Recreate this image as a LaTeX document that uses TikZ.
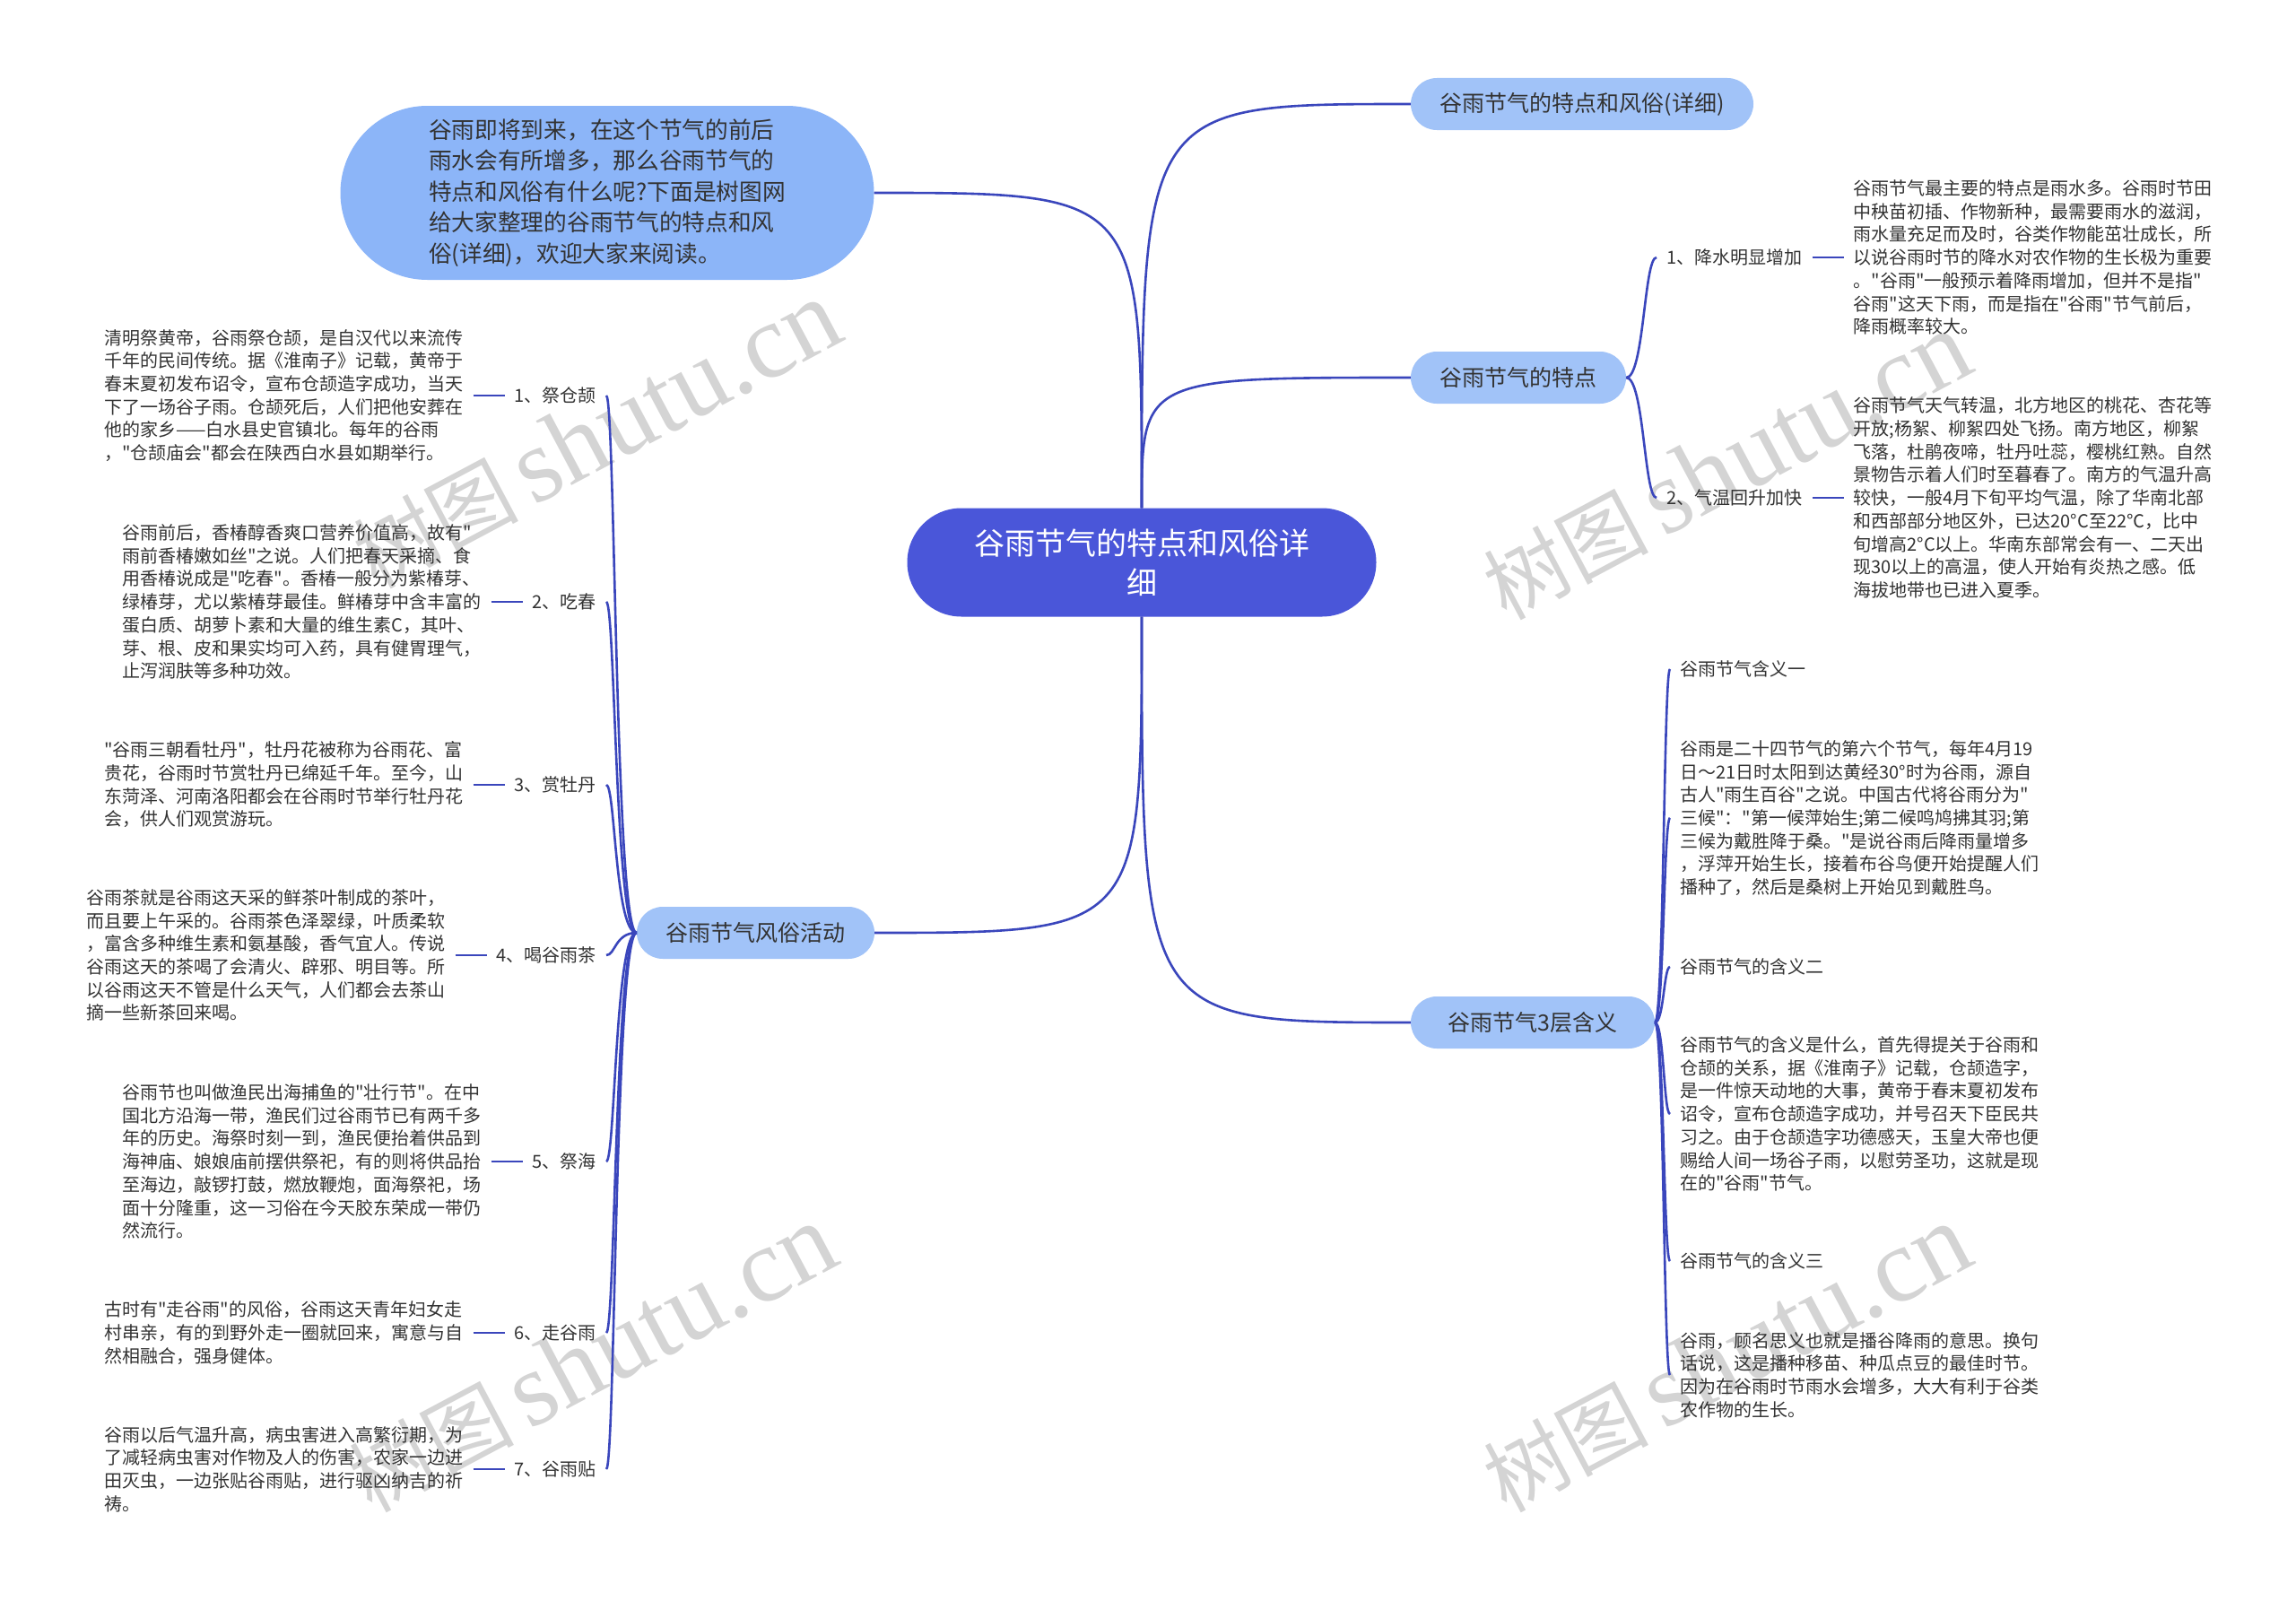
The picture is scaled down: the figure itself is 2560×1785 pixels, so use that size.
\documentclass[tikz,border=0pt]{standalone}
\usepackage{fontspec}
\setmainfont{Noto Sans CJK SC}
\newfontfamily\cjk{Noto Sans CJK SC}
\newfontfamily\wmlatin{Liberation Serif}
\usetikzlibrary{shapes.misc}
\definecolor{mainblue}{RGB}{74,86,217}
\definecolor{pillblue}{RGB}{161,195,248}
\definecolor{introblue}{RGB}{140,181,248}
\definecolor{linkblue}{RGB}{58,70,188}
\definecolor{txt}{RGB}{51,51,51}
\definecolor{wmgray}{RGB}{212,212,212}
\begin{document}
\begin{tikzpicture}[x=1pt,y=-1pt,
  link/.style={draw=linkblue, line width=2.6pt},
  central/.style={rounded rectangle, fill=mainblue, text=white, minimum width=523pt, minimum height=121pt, inner sep=0pt, align=center, font=\cjk\fontsize{34}{44}\selectfont},
  pill/.style={rounded rectangle, fill=pillblue, text=txt, minimum height=58pt, inner sep=0pt, font=\cjk\fontsize{25}{30}\selectfont},
  intro/.style={rounded rectangle, fill=introblue, text=txt, minimum width=595pt, minimum height=194pt, inner sep=0pt, align=left, font=\cjk\fontsize{25.7}{34.5}\selectfont},
  sidelabel/.style={inner xsep=11pt, inner ysep=2pt, text=txt, font=\cjk\fontsize{20}{25.7}\selectfont},
  desc/.style={inner xsep=11pt, inner ysep=2pt, text=txt, align=left, font=\cjk\fontsize{20}{25.7}\selectfont},
  watermark/.style={text=wmgray, rotate=28, font=\cjk\fontsize{92}{96}\selectfont}
]
\fill[white] (0,0) rectangle (2560,1785);
\useasboundingbox (0,0) rectangle (2560,1785);

% watermarks
\node[watermark] (wm1) at (665,485) {树图\,{\wmlatin\fontsize{118}{120}\selectfont shutu.cn}};
\node[watermark] (wm2) at (1925,520) {树图\,{\wmlatin\fontsize{118}{120}\selectfont shutu.cn}};
\node[watermark] (wm3) at (660,1515) {树图\,{\wmlatin\fontsize{118}{120}\selectfont shutu.cn}};
\node[watermark] (wm4) at (1925,1515) {树图\,{\wmlatin\fontsize{118}{120}\selectfont shutu.cn}};

% main nodes
\node[central] (c) at (1273,627) {谷雨节气的特点和风俗详\\细};
\node[intro] (intro) at (677,215) {谷雨即将到来，在这个节气的前后\\雨水会有所增多，那么谷雨节气的\\特点和风俗有什么呢?下面是树图网\\给大家整理的谷雨节气的特点和风\\俗(详细)，欢迎大家来阅读。};
\node[pill, minimum width=382pt] (A) at (1764,116) {谷雨节气的特点和风俗(详细)};
\node[pill, minimum width=240pt] (B) at (1693,421) {谷雨节气的特点};
\node[pill, minimum width=272pt] (C) at (1709,1140) {谷雨节气3层含义};
\node[pill, minimum width=265pt] (D) at (842.5,1040) {谷雨节气风俗活动};

\draw[link] (intro.east) .. controls (c.north |- intro.east) .. (c.north);
\draw[link] (c.north) .. controls (c.north |- A.west) .. (A.west);
\draw[link] (c.north) .. controls (c.north |- B.west) .. (B.west);
\draw[link] (c.south) .. controls (c.south |- C.west) .. (C.west);
\draw[link] (c.south) .. controls (c.south |- D.east) .. (D.east);

% ---- left branch: customs
\node[sidelabel, anchor=east] (dl1) at (676,441) {1、祭仓颉};
\node[desc, anchor=east] (dt1) at ([xshift=-35pt]dl1.west) {清明祭黄帝，谷雨祭仓颉，是自汉代以来流传\\千年的民间传统。据《淮南子》记载，黄帝于\\春末夏初发布诏令，宣布仓颉造字成功，当天\\下了一场谷子雨。仓颉死后，人们把他安葬在\\他的家乡——白水县史官镇北。每年的谷雨\\，"仓颉庙会"都会在陕西白水县如期举行。};
\node[sidelabel, anchor=east] (dl2) at (676,671) {2、吃春};
\node[desc, anchor=east] (dt2) at ([xshift=-35pt]dl2.west) {谷雨前后，香椿醇香爽口营养价值高，故有"\\雨前香椿嫩如丝"之说。人们把春天采摘、食\\用香椿说成是"吃春"。香椿一般分为紫椿芽、\\绿椿芽，尤以紫椿芽最佳。鲜椿芽中含丰富的\\蛋白质、胡萝卜素和大量的维生素C，其叶、\\芽、根、皮和果实均可入药，具有健胃理气，\\止泻润肤等多种功效。};
\node[sidelabel, anchor=east] (dl3) at (676,875) {3、赏牡丹};
\node[desc, anchor=east] (dt3) at ([xshift=-35pt]dl3.west) {"谷雨三朝看牡丹"，牡丹花被称为谷雨花、富\\贵花，谷雨时节赏牡丹已绵延千年。至今，山\\东菏泽、河南洛阳都会在谷雨时节举行牡丹花\\会，供人们观赏游玩。};
\node[sidelabel, anchor=east] (dl4) at (676,1065) {4、喝谷雨茶};
\node[desc, anchor=east] (dt4) at ([xshift=-35pt]dl4.west) {谷雨茶就是谷雨这天采的鲜茶叶制成的茶叶，\\而且要上午采的。谷雨茶色泽翠绿，叶质柔软\\，富含多种维生素和氨基酸，香气宜人。传说\\谷雨这天的茶喝了会清火、辟邪、明目等。所\\以谷雨这天不管是什么天气，人们都会去茶山\\摘一些新茶回来喝。};
\node[sidelabel, anchor=east] (dl5) at (676,1295) {5、祭海};
\node[desc, anchor=east] (dt5) at ([xshift=-35pt]dl5.west) {谷雨节也叫做渔民出海捕鱼的"壮行节"。在中\\国北方沿海一带，渔民们过谷雨节已有两千多\\年的历史。海祭时刻一到，渔民便抬着供品到\\海神庙、娘娘庙前摆供祭祀，有的则将供品抬\\至海边，敲锣打鼓，燃放鞭炮，面海祭祀，场\\面十分隆重，这一习俗在今天胶东荣成一带仍\\然流行。};
\node[sidelabel, anchor=east] (dl6) at (676,1486) {6、走谷雨};
\node[desc, anchor=east] (dt6) at ([xshift=-35pt]dl6.west) {古时有"走谷雨"的风俗，谷雨这天青年妇女走\\村串亲，有的到野外走一圈就回来，寓意与自\\然相融合，强身健体。};
\node[sidelabel, anchor=east] (dl7) at (676,1638) {7、谷雨贴};
\node[desc, anchor=east] (dt7) at ([xshift=-35pt]dl7.west) {谷雨以后气温升高，病虫害进入高繁衍期，为\\了减轻病虫害对作物及人的伤害，农家一边进\\田灭虫，一边张贴谷雨贴，进行驱凶纳吉的祈\\祷。};

\foreach \i in {1,...,7} {
  \draw[link] (D.west) .. controls +(-24,0) and +(10,0) .. (dl\i.east);
  \draw[link] (dt\i.east) -- (dl\i.west);
}

% ---- right branch: features
\node[sidelabel, anchor=west] (bl1) at (1847,287) {1、降水明显增加};
\node[desc, anchor=west] (bt1) at ([xshift=35pt]bl1.east) {谷雨节气最主要的特点是雨水多。谷雨时节田\\中秧苗初插、作物新种，最需要雨水的滋润，\\雨水量充足而及时，谷类作物能茁壮成长，所\\以说谷雨时节的降水对农作物的生长极为重要\\。"谷雨"一般预示着降雨增加，但并不是指"\\谷雨"这天下雨，而是指在"谷雨"节气前后，\\降雨概率较大。};
\node[sidelabel, anchor=west] (bl2) at (1847,555) {2、气温回升加快};
\node[desc, anchor=west] (bt2) at ([xshift=35pt]bl2.east) {谷雨节气天气转温，北方地区的桃花、杏花等\\开放;杨絮、柳絮四处飞扬。南方地区，柳絮\\飞落，杜鹃夜啼，牡丹吐蕊，樱桃红熟。自然\\景物告示着人们时至暮春了。南方的气温升高\\较快，一般4月下旬平均气温，除了华南北部\\和西部部分地区外，已达20°C至22℃，比中\\旬增高2°C以上。华南东部常会有一、二天出\\现30以上的高温，使人开始有炎热之感。低\\海拔地带也已进入夏季。};
\foreach \i in {1,2} {
  \draw[link] (B.east) .. controls +(20,0) and +(-14,0) .. (bl\i.west);
  \draw[link] (bl\i.east) -- (bt\i.west);
}

% ---- right branch: meanings
\node[sidelabel, anchor=west] (cn1) at (1862,746) {谷雨节气含义一};
\node[desc, anchor=west] (cn2) at (1862,912) {谷雨是二十四节气的第六个节气，每年4月19\\日～21日时太阳到达黄经30°时为谷雨，源自\\古人"雨生百谷"之说。中国古代将谷雨分为"\\三候"："第一候萍始生;第二候鸣鸠拂其羽;第\\三候为戴胜降于桑。"是说谷雨后降雨量增多\\，浮萍开始生长，接着布谷鸟便开始提醒人们\\播种了，然后是桑树上开始见到戴胜鸟。};
\node[sidelabel, anchor=west] (cn3) at (1862,1078) {谷雨节气的含义二};
\node[desc, anchor=west] (cn4) at (1862,1242) {谷雨节气的含义是什么，首先得提关于谷雨和\\仓颉的关系，据《淮南子》记载，仓颉造字，\\是一件惊天动地的大事，黄帝于春末夏初发布\\诏令，宣布仓颉造字成功，并号召天下臣民共\\习之。由于仓颉造字功德感天，玉皇大帝也便\\赐给人间一场谷子雨，以慰劳圣功，这就是现\\在的"谷雨"节气。};
\node[sidelabel, anchor=west] (cn5) at (1862,1406) {谷雨节气的含义三};
\node[desc, anchor=west] (cn6) at (1862,1533) {谷雨，顾名思义也就是播谷降雨的意思。换句\\话说，这是播种移苗、种瓜点豆的最佳时节。\\因为在谷雨时节雨水会增多，大大有利于谷类\\农作物的生长。};
\foreach \i in {1,...,6} {
  \draw[link] (C.east) .. controls +(10,0) and +(-7,0) .. (cn\i.west);
}
\end{tikzpicture}
\end{document}
